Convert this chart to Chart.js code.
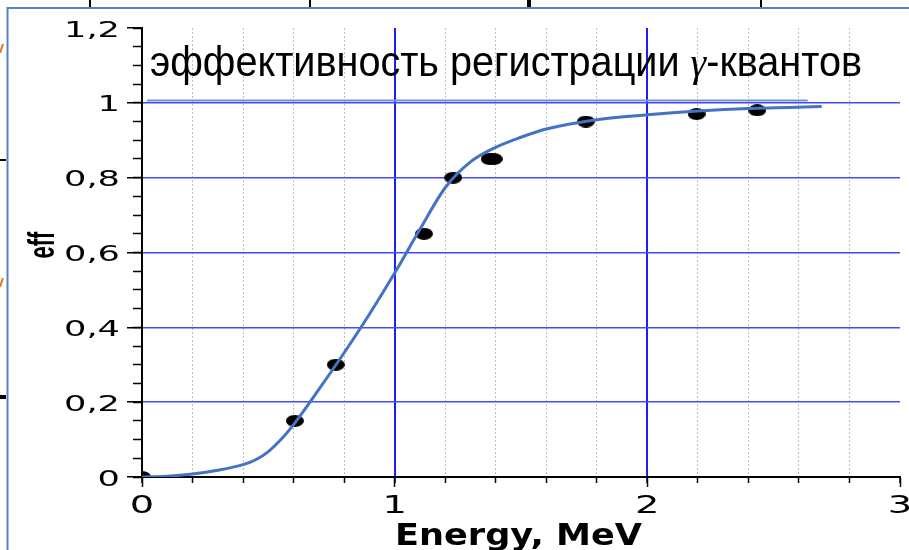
<!DOCTYPE html>
<html>
<head>
<meta charset="utf-8">
<script src="https://cdn.jsdelivr.net/npm/chart.js@4.4.1/dist/chart.umd.min.js"></script>
<style>
  html, body { margin: 0; padding: 0; background: #ffffff; }
  canvas { display: block; }
</style>
</head>
<body>
<canvas id="chart" width="909" height="550"></canvas>
<script>
// Gamma-ray detection efficiency versus photon energy

// Fitted efficiency curve
const curveEnergy = [0, 0.1, 0.2, 0.3, 0.4, 0.45, 0.5, 0.55, 0.6, 0.7, 0.8, 0.9, 1.0, 1.1, 1.2, 1.3, 1.4, 1.5, 1.6, 1.8, 2.0, 2.2, 2.4, 2.69];
const curveEff    = [0, 0.002, 0.008, 0.018, 0.033, 0.046, 0.068, 0.1, 0.14, 0.234, 0.332, 0.435, 0.545, 0.662, 0.773, 0.842, 0.881, 0.908, 0.93, 0.955, 0.968, 0.978, 0.985, 0.99];

// Measured points
const measEnergy = [0, 0.605, 0.767, 1.116, 1.232, 1.376, 1.392, 1.757, 2.195, 2.435];
const measEff    = [0, 0.15, 0.3, 0.65, 0.8, 0.85, 0.85, 0.95, 0.97, 0.98];

// Saturation level line
const plateauEnergy = [0.02, 2.635];
const plateauEff    = [1.006, 1.006];

// Axis tick labels
const xTickLabels = ['0', '1', '2', '3'];
const yTickLabels = ['0', '0,2', '0,4', '0,6', '0,8', '1', '1,2'];

// Texts
const titleParts = ['эффективность регистрации ', 'γ', '-квантов'];
const xTitle = 'Energy, MeV';
const yTitle = 'eff';

const toPoints = (xs, ys) => xs.map((x, i) => ({ x: x, y: ys[i] }));
const isWhole = v => Math.abs(v - Math.round(v)) < 1e-6;
const CLEAR = 'rgba(0,0,0,0)';

// Filled black ellipse used as the marker for measured points
function ellipseMarker(w, h) {
  const c = document.createElement('canvas');
  c.width = w; c.height = h;
  const g = c.getContext('2d');
  g.fillStyle = '#000000';
  g.beginPath();
  g.ellipse(w / 2, h / 2, w / 2, h / 2, 0, 0, Math.PI * 2);
  g.fill();
  return c;
}

// Text drawn with a horizontal stretch factor
function stretchedText(ctx, text, x, y, font, sx, align) {
  ctx.save();
  ctx.font = font;
  ctx.translate(x, y);
  ctx.scale(sx, 1);
  ctx.textAlign = align;
  ctx.textBaseline = 'alphabetic';
  ctx.fillStyle = '#000000';
  ctx.fillText(text, 0, 0);
  ctx.restore();
}

// Sequence of text runs squeezed to a target width
function fittedRuns(ctx, runs, x, y, width) {
  ctx.save();
  let total = 0;
  runs.forEach(r => { ctx.font = r.font; total += ctx.measureText(r.text).width; });
  const sx = width / total;
  ctx.translate(x, y);
  ctx.scale(sx, 1);
  ctx.textAlign = 'left';
  ctx.textBaseline = 'alphabetic';
  ctx.fillStyle = '#000000';
  let cursor = 0;
  runs.forEach(r => {
    ctx.font = r.font;
    ctx.fillText(r.text, cursor, 0);
    cursor += ctx.measureText(r.text).width;
  });
  ctx.restore();
}

const decorations = {
  id: 'decorations',
  beforeDraw(chart) {
    const ctx = chart.ctx;
    ctx.save();
    // slide frame
    ctx.strokeStyle = '#5b7fcb';
    ctx.lineWidth = 2;
    ctx.beginPath();
    ctx.moveTo(7.5, 550);
    ctx.lineTo(7.5, 8);
    ctx.lineTo(909, 8);
    ctx.stroke();
    // small marks along the edges
    ctx.fillStyle = '#000000';
    [[89, 2], [309, 2], [527, 4], [760, 2]].forEach(([x, w]) => ctx.fillRect(x, 0, w, 7));
    ctx.fillRect(0, 159, 6, 2);
    ctx.fillRect(0, 395, 6, 4);
    ctx.strokeStyle = '#e07b2a';
    ctx.lineWidth = 2;
    ctx.beginPath();
    ctx.moveTo(0, 53); ctx.lineTo(3, 44);
    ctx.moveTo(0, 287); ctx.lineTo(3, 278);
    ctx.stroke();
    ctx.restore();
  },
  afterDraw(chart) {
    const ctx = chart.ctx;
    const xs = chart.scales.x;
    const ys = chart.scales.y;

    ys.ticks.forEach(t => {
      const label = yTickLabels[Math.round(t.value / 0.2)];
      stretchedText(ctx, label, 120, ys.getPixelForValue(t.value) + 8.5, '22px "DejaVu Sans"', 1.6, 'right');
    });
    xs.ticks.forEach(t => {
      const label = xTickLabels[Math.round(t.value)];
      stretchedText(ctx, label, xs.getPixelForValue(t.value), 513, '24px "DejaVu Sans"', 1.6, 'center');
    });

    // axis titles
    fittedRuns(ctx, [{ text: xTitle, font: 'bold 30px "DejaVu Sans"' }], 395, 545, 247);
    ctx.save();
    ctx.translate(54, 245);
    ctx.scale(1.65, 1);
    ctx.rotate(-Math.PI / 2);
    ctx.font = 'bold 22px "Liberation Sans"';
    ctx.textAlign = 'center';
    ctx.textBaseline = 'alphabetic';
    ctx.fillStyle = '#000000';
    ctx.fillText(yTitle, 0, 0);
    ctx.restore();

    // caption
    fittedRuns(ctx, [
      { text: titleParts[0], font: '42px "Liberation Sans"' },
      { text: titleParts[1], font: 'italic 42px "Liberation Serif"' },
      { text: titleParts[2], font: '42px "Liberation Sans"' }
    ], 150, 76, 712);
  }
};

new Chart(document.getElementById('chart'), {
  type: 'scatter',
  data: {
    datasets: [
      {
        label: 'fit',
        data: toPoints(curveEnergy, curveEff),
        showLine: true,
        borderColor: '#4472c4',
        borderWidth: 3,
        pointRadius: 0,
        cubicInterpolationMode: 'monotone',
        fill: false,
        order: 0
      },
      {
        label: 'measured',
        data: toPoints(measEnergy, measEff),
        showLine: false,
        pointStyle: ellipseMarker(18, 12),
        pointRadius: 8,
        clip: 0,
        order: 1
      },
      {
        label: 'plateau',
        data: toPoints(plateauEnergy, plateauEff),
        showLine: true,
        borderColor: '#7394d2',
        borderWidth: 2,
        pointRadius: 0,
        fill: false,
        order: 2
      }
    ]
  },
  options: {
    responsive: false,
    animation: false,
    events: [],
    devicePixelRatio: 1,
    layout: { padding: { left: 0, right: 9, top: 28, bottom: 0 } },
    plugins: { legend: { display: false }, tooltip: { enabled: false }, title: { display: false } },
    scales: {
      xMinor: {
        type: 'linear', position: 'bottom', weight: 0, min: 0, max: 3,
        ticks: { stepSize: 0.2, display: false, autoSkip: false },
        grid: {
          color: c => {
            const v = c.tick ? c.tick.value : 0;
            if (v < 1e-6 || v > 3 - 1e-6) return CLEAR;
            return isWhole(v) ? '#1d1dff' : '#bdbdbd';
          },
          lineWidth: c => (c.tick && isWhole(c.tick.value)) ? 2 : 1,
          drawTicks: true, tickLength: 6, tickColor: '#000000', tickWidth: 1.5
        },
        border: { display: false, dash: c => (c.tick && !isWhole(c.tick.value)) ? [2, 2] : [] },
        afterFit: s => { s.height = 0; s.paddingLeft = 0; s.paddingRight = 0; }
      },
      x: {
        type: 'linear', position: 'bottom', weight: 10, min: 0, max: 3,
        ticks: { stepSize: 1, display: false, autoSkip: false },
        grid: { drawOnChartArea: false, drawTicks: true, tickLength: 10, tickColor: '#000000', tickWidth: 1.5 },
        border: { display: true, color: '#000000', width: 2 },
        afterFit: s => { s.height = 73; s.paddingLeft = 0; s.paddingRight = 0; }
      },
      yMinor: {
        type: 'linear', position: 'left', weight: 0, min: 0, max: 1.2,
        ticks: { stepSize: 0.05, display: false, autoSkip: false },
        grid: { drawOnChartArea: false, drawTicks: true, tickLength: 9, tickColor: '#000000', tickWidth: 1.5 },
        border: { display: false },
        afterFit: s => { s.width = 0; s.paddingTop = 0; s.paddingBottom = 0; }
      },
      y: {
        type: 'linear', position: 'left', weight: 10, min: 0, max: 1.2,
        ticks: { stepSize: 0.2, display: false, autoSkip: false },
        grid: {
          color: c => {
            const v = c.tick ? c.tick.value : 0;
            return (v > 1e-6 && v < 1.2 - 1e-6) ? '#4848ff' : CLEAR;
          },
          lineWidth: 1.5,
          drawTicks: true, tickLength: 15, tickColor: '#000000', tickWidth: 1.5
        },
        border: { display: true, color: '#000000', width: 2 },
        afterFit: s => { s.width = 142; s.paddingTop = 0; s.paddingBottom = 0; }
      }
    }
  },
  plugins: [decorations]
});
</script>
</body>
</html>
